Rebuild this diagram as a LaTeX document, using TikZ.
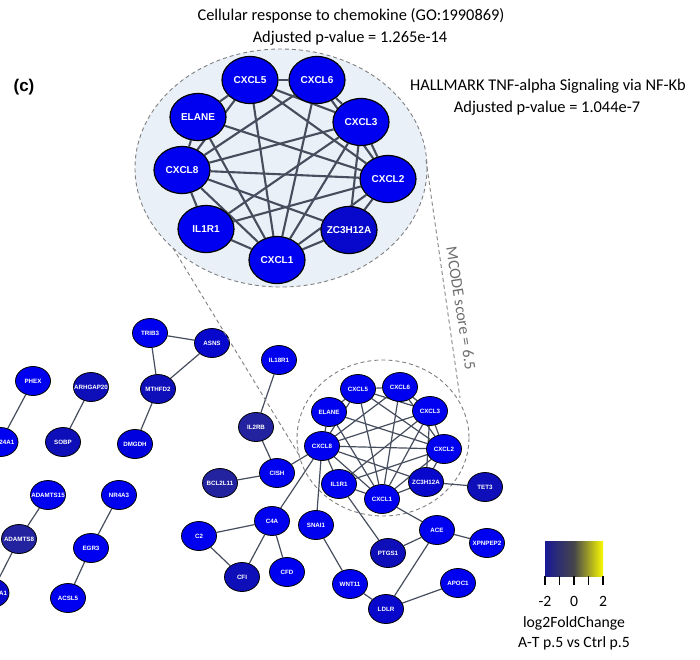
\documentclass[tikz,border=0pt]{standalone}
\usepackage{fontspec}
\setmainfont{Carlito}
\newfontfamily\genefont{Liberation Sans}
\usetikzlibrary{shapes.geometric}
\pgfdeclarelayer{back}
\pgfdeclarelayer{edges}
\pgfsetlayers{back,edges,main}

\definecolor{nb}{RGB}{0,0,240}
\definecolor{nb2}{RGB}{0,0,222}
\definecolor{nm}{RGB}{8,8,205}
\definecolor{nd}{RGB}{15,15,185}
\definecolor{nvd}{RGB}{35,35,160}
\definecolor{edgec}{RGB}{70,78,94}
\definecolor{clusfill}{RGB}{233,240,248}
\definecolor{dashc}{RGB}{128,128,128}
\definecolor{mcodec}{RGB}{110,110,110}
\definecolor{lgL}{RGB}{25,25,150}
\definecolor{lgM}{RGB}{70,70,75}
\definecolor{lgR}{RGB}{250,250,0}

\tikzset{
  gene/.style={ellipse, draw=black, line width=0.8pt, fill=nb, minimum width=35pt, minimum height=29pt, inner sep=0pt, text=white, font=\genefont\bfseries\fontsize{6.2}{7}\selectfont, execute at begin node={\hbox to 0pt\bgroup\hss}, execute at end node={\hss\egroup}},
  big/.style={gene, minimum width=56pt, minimum height=47pt, line width=1.2pt, font=\genefont\bfseries\fontsize{10}{12}\selectfont},
  lk/.style={draw=edgec, line width=1.2pt},
  blk/.style={draw=edgec, line width=2.1pt},
  dsh/.style={draw=dashc, line width=0.9pt, dash pattern=on 4pt off 3pt},
  ttl/.style={font=\fontsize{16.4}{19}\selectfont, inner sep=0pt},
  lgd/.style={font=\fontsize{15.7}{18}\selectfont, inner sep=0pt},
}

\begin{document}
\begin{tikzpicture}[x=1pt,y=-1pt]
\clip (0,0) rectangle (700,659);
\begin{pgfonlayer}{back}
  \fill[white] (0,0) rectangle (700,659);
  \filldraw[dsh, fill=clusfill] (281,168) ellipse [x radius=146, y radius=119];
  \draw[dsh] (383,438) ellipse [x radius=86, y radius=78];
\end{pgfonlayer}

% titles
\node[ttl] (t1) at (351,16) {Cellular response to chemokine (GO:1990869)};
\node[ttl] (t2) at (350,38) {Adjusted p-value = 1.265e-14};
\node[ttl] (t3) at (548,86) {HALLMARK TNF-alpha Signaling via NF-Kb};
\node[ttl] (t4) at (547,108) {Adjusted p-value = 1.044e-7};
\node[font=\genefont\bfseries\fontsize{17}{20}\selectfont, inner sep=0pt] (tag) at (24,87) {(c)};

% big cluster
\node[big] (b5) at (250,80) {CXCL5};
\node[big] (b6) at (317,80) {CXCL6};
\node[big] (bE) at (198,117) {ELANE};
\node[big] (b3) at (361,122) {CXCL3};
\node[big] (b8) at (182,170) {CXCL8};
\node[big] (b2) at (388,179) {CXCL2};
\node[big] (bI) at (206,229) {IL1R1};
\node[big,fill=nm] (bZ) at (349,230) {ZC3H12A};
\node[big] (b1) at (277,260) {CXCL1};

% small cluster
\node[gene] (s5) at (358,389) {CXCL5};
\node[gene] (s6) at (400,387) {CXCL6};
\node[gene] (sE) at (329,412) {ELANE};
\node[gene] (s3) at (430,411) {CXCL3};
\node[gene] (s8) at (322,446) {CXCL8};
\node[gene] (s2) at (444,449) {CXCL2};
\node[gene] (sI) at (339,484) {IL1R1};
\node[gene,fill=nm] (sZ) at (426,482) {ZC3H12A};
\node[gene] (s1) at (382,499) {CXCL1};

\begin{pgfonlayer}{edges}
\foreach \a/\b in {5/6,6/3,3/2,2/Z,Z/1,1/I,I/8,8/E,E/5,1/5,1/6,1/3,1/2,1/8,1/E,8/5,8/6,8/3,8/2,8/Z,E/2,I/3,I/2,5/3,5/2,6/2,3/Z}{
  \draw[blk] (b\a) -- (b\b);
  \draw[lk] (s\a) -- (s\b);
}
\end{pgfonlayer}

% other genes
\node[gene] (trib3) at (150,333) {TRIB3};
\node[gene,fill=nm] (asns) at (212,343) {ASNS};
\node[gene,fill=nd] (mthfd2) at (158,389) {MTHFD2};
\node[gene,fill=nb2] (dmgdh) at (135,444) {DMGDH};
\node[gene] (phex) at (33,381) {PHEX};
\node[gene] (cyp) at (0.5,442) {\hphantom{CYP}24A1};
\node[gene,fill=nd] (arhgap) at (91,387) {ARHGAP20};
\node[gene,fill=nd] (sobp) at (63,442) {SOBP};
\node[gene] (adamts15) at (48,495) {ADAMTS15};
\node[gene,fill=nvd] (adamts8) at (19,539) {ADAMTS8};
\node[gene,fill=nm] (aone) at (-8.5,593) {\hphantom{SERPIN}A1};
\node[gene] (nr4a3) at (119,495) {NR4A3};
\node[gene] (egr3) at (91,548) {EGR3};
\node[gene] (acsl5) at (68,598) {ACSL5};
\node[gene] (il18r1) at (279,360) {IL18R1};
\node[gene,fill=nvd] (il2rb) at (256,427) {IL2RB};
\node[gene] (cish) at (277,473) {CISH};
\node[gene,fill=nvd] (bcl) at (220,483) {BCL2L11};
\node[gene] (c2) at (199,536) {C2};
\node[gene] (c4a) at (272,521) {C4A};
\node[gene,fill=nd] (cfi) at (242,577) {CFI};
\node[gene] (cfd) at (287,572) {CFD};
\node[gene] (snai1) at (316,525) {SNAI1};
\node[gene,fill=nd] (ptgs1) at (388,553) {PTGS1};
\node[gene] (ace) at (437,530) {ACE};
\node[gene] (xpnpep2) at (487,543) {XPNPEP2};
\node[gene] (wnt11) at (350,584) {WNT11};
\node[gene,fill=nm] (ldlr) at (386,609) {LDLR};
\node[gene] (apoc1) at (458,583) {APOC1};
\node[gene,fill=nd] (tet3) at (485,487) {TET3};

\begin{pgfonlayer}{edges}
\foreach \a/\b in {trib3/asns,trib3/mthfd2,asns/mthfd2,mthfd2/dmgdh,phex/cyp,arhgap/sobp,adamts15/adamts8,adamts8/aone,nr4a3/egr3,egr3/acsl5,il18r1/il2rb,il2rb/cish,bcl/cish,cish/s8,c2/c4a,c2/cfi,c4a/cfi,c4a/cfd,c4a/s8,snai1/s8,snai1/wnt11,wnt11/ldlr,sI/ptgs1,ptgs1/ace,ace/xpnpep2,ace/ldlr,ace/s1,ldlr/apoc1,sZ/tet3}{
  \draw[lk] (\a) -- (\b);
}
\end{pgfonlayer}

% zoom connectors
\coordinate (zl1) at (173,248);
\coordinate (zl2) at (299,455);
\coordinate (zr1) at (426,160);
\coordinate (zr2) at (460,398);
\draw[dsh] (zl1) -- (zl2);
\draw[dsh] (zr1) -- (zr2);
\node[font=\fontsize{16}{19}\selectfont, text=mcodec, rotate=-81, inner sep=0pt] (mcode) at (461,308) {MCODE score = 6.5};

% legend
\shade[left color=lgL, right color=lgR, middle color=lgM] (545,541) rectangle (603,576);
\foreach \x in {545,559.5,574,588.5,603}{
  \draw[line width=1.1pt] (\x,576) -- (\x,585);
}
\node[lgd] (lm2) at (545,601) {-2};
\node[lgd] (l0) at (574,601) {0};
\node[lgd] (lp2) at (603,601) {2};
\node[lgd] (lt1) at (574,623) {log2FoldChange};
\node[lgd] (lt2) at (574,643) {A-T p.5 vs Ctrl p.5};
\end{tikzpicture}
\end{document}
